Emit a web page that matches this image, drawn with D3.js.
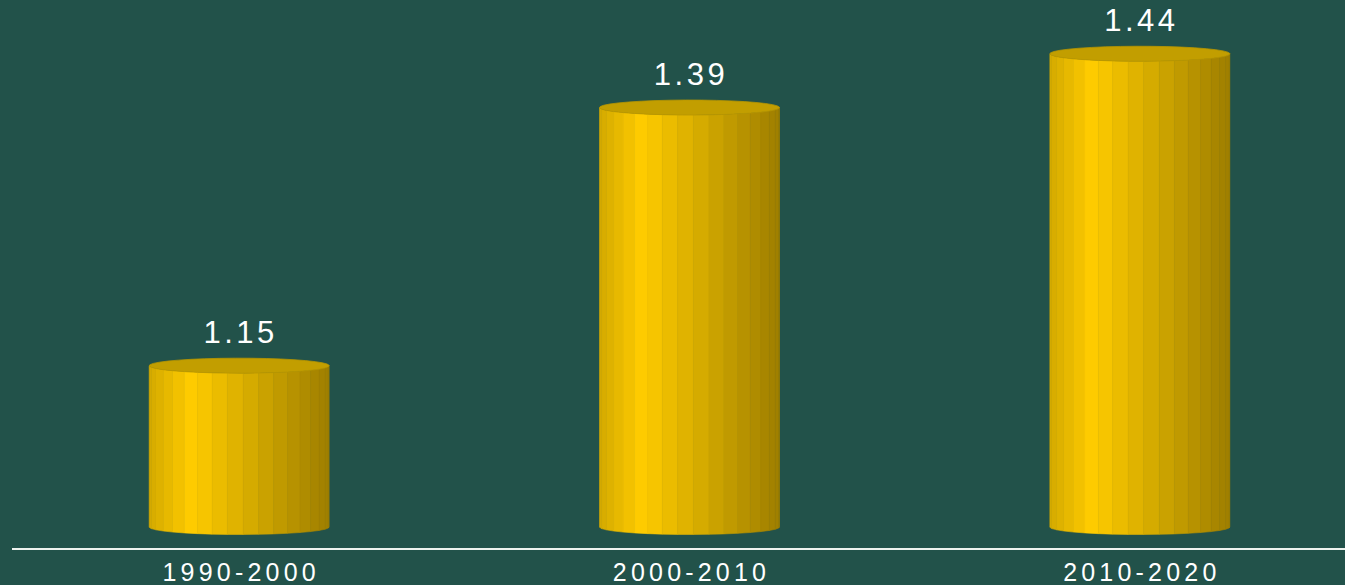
<!DOCTYPE html>
<html>
<head>
<meta charset="utf-8">
<script src="https://cdn.jsdelivr.net/npm/d3@7/dist/d3.min.js"></script>
<style>
  html, body { margin: 0; padding: 0; background: #22524a; }
  svg { display: block; }
  text { font-family: "Liberation Sans", Arial, sans-serif; fill: #ffffff; }
</style>
</head>
<body>
<svg id="chart" width="1345" height="585"></svg>
<script>
// Average growth per decade
const categories = ["1990-2000", "2000-2010", "2010-2020"];
const values = [1.15, 1.39, 1.44];
const valueLabels = ["1.15", "1.39", "1.44"];

const W = 1345, H = 585;
const svg = d3.select("#chart");

const x = d3.scaleBand().domain(categories).range([14, 1365]).paddingInner(0).paddingOuter(0);
const y = d3.scaleLinear().domain([1.0, 1.45]).range([527, 43]);

const rx = x.bandwidth() * 0.2;   // cylinder radius (horizontal)
const ry = 7.5;                    // cylinder ellipse half-height
const N = 36;                      // facets around the cylinder

// brightness across the visible face: u = -1 (left edge) .. 1 (right edge)
const bright = d3.scaleLinear().domain([-1, -0.53, 1]).range([0.83, 1, 0.62]).clamp(true);
const faceColor = u => {
  const f = bright(u);
  return d3.rgb(255 * f, 204 * f, 0).formatHex();
};

const g = svg.append("g");

categories.forEach((c, i) => {
  const cx = x(c) + x.bandwidth() / 2;
  const yTop = y(values[i]);
  const yBot = y(1.0);
  const cyl = g.append("g").attr("class", "cylinder");

  const ang = d3.range(N + 1).map(k => -Math.PI + (k * 2 * Math.PI) / N + Math.PI / N / 2);
  const px = a => cx + rx * Math.sin(a);
  const py = (a, base) => base + ry * Math.cos(a);

  // side facets facing the viewer
  for (let k = 0; k < N; k++) {
    const a1 = ang[k], a2 = ang[k + 1];
    const mid = (a1 + a2) / 2;
    if (Math.cos(mid) <= 0) continue;
    const col = faceColor(Math.sin(mid));
    const pts = [
      [px(a1), py(a1, yTop)], [px(a2), py(a2, yTop)],
      [px(a2), py(a2, yBot)], [px(a1), py(a1, yBot)]
    ];
    cyl.append("polygon")
      .attr("points", pts.map(p => p.join(",")).join(" "))
      .attr("fill", col)
      .attr("stroke", col)
      .attr("stroke-width", 0.6);
  }

  // top cap
  const topPts = ang.slice(0, N).map(a => [px(a), py(a, yTop)]);
  cyl.append("polygon")
    .attr("points", topPts.map(p => p.join(",")).join(" "))
    .attr("fill", "#c29e00")
    .attr("stroke", "#b89500")
    .attr("stroke-width", 0.8);

  // value label
  g.append("text")
    .attr("x", cx + 1.5)
    .attr("y", yTop - 23)
    .attr("text-anchor", "middle")
    .attr("font-size", 31)
    .attr("letter-spacing", 3.5)
    .text(valueLabels[i]);
});

// category axis
const axis = svg.append("g")
  .attr("transform", `translate(0,549)`)
  .call(d3.axisBottom(x).tickSize(0).tickSizeOuter(0).tickPadding(0));
axis.select(".domain")
  .attr("d", `M12,0H${W}`)
  .attr("stroke", "#eef3ef")
  .attr("stroke-width", 2);
axis.selectAll(".tick text")
  .attr("y", 32)
  .attr("dy", 0)
  .attr("dx", 2)
  .attr("fill", "#ffffff")
  .attr("font-family", "Liberation Sans, Arial, sans-serif")
  .attr("font-size", 25)
  .attr("letter-spacing", 4.2);
</script>
</body>
</html>
